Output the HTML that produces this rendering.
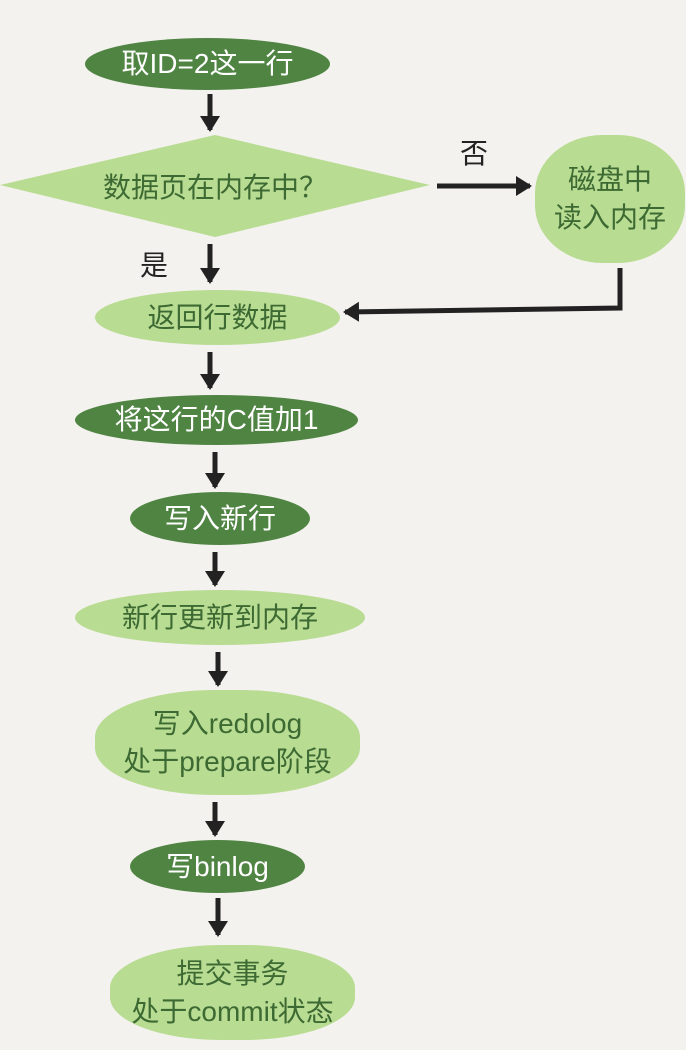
<!DOCTYPE html>
<html><head><meta charset="utf-8"><style>
body{margin:0;width:686px;height:1050px;background:#f4f2ee;position:relative;overflow:hidden;font-family:"Liberation Sans","Noto Sans CJK SC",sans-serif}
.n{position:absolute;display:flex;align-items:center;justify-content:center;text-align:center;font-size:28px;line-height:1.35;border-radius:50%/50%}
.d{background:#4f8443;color:#fff}
.l{background:#b9dc93;color:#3d6a33}
.t{position:absolute;font-size:28px;color:#222}
</style></head><body>
<svg width="686" height="1050" style="position:absolute;left:0;top:0">
<defs><marker id="a" markerUnits="userSpaceOnUse" markerWidth="24" markerHeight="24" refX="14" refY="12" orient="auto"><path d="M0,2 L16,12 L0,22 z" fill="#222"/></marker></defs>
<polygon points="0,185 215,135 430,185 215,237" fill="#b9dc93"/>
<g stroke="#222" stroke-width="5" fill="none" marker-end="url(#a)">
<line x1="210" y1="94" x2="210" y2="130"/>
<line x1="210" y1="244" x2="210" y2="282"/>
<line x1="437" y1="186" x2="530" y2="186"/>
<line x1="210" y1="352" x2="210" y2="388"/>
<line x1="215" y1="452" x2="215" y2="487"/>
<line x1="215" y1="552" x2="215" y2="585"/>
<line x1="218" y1="652" x2="218" y2="685"/>
<line x1="215" y1="802" x2="215" y2="835"/>
<line x1="218" y1="898" x2="218" y2="935"/>
</g>
<polyline points="620,268 620,308 345,312" stroke="#222" stroke-width="5" fill="none" marker-end="url(#a)"/>
</svg>
<div class="n d" style="left:85px;top:38px;width:245px;height:52px">取ID=2这一行</div>
<div class="t" style="left:80px;top:166px;width:270px;text-align:center;color:#3d6a33">数据页在内存中？</div>
<div class="t" style="left:460px;top:132px">否</div>
<div class="n l" style="left:535px;top:135px;width:150px;height:128px;border-radius:45%">磁盘中<br>读入内存</div>
<div class="t" style="left:140px;top:244px">是</div>
<div class="n l" style="left:95px;top:290px;width:245px;height:55px">返回行数据</div>
<div class="n d" style="left:75px;top:395px;width:283px;height:50px">将这行的C值加1</div>
<div class="n d" style="left:130px;top:492px;width:180px;height:53px">写入新行</div>
<div class="n l" style="left:75px;top:590px;width:290px;height:55px">新行更新到内存</div>
<div class="n l" style="left:95px;top:690px;width:265px;height:105px;border-radius:45%">写入redolog<br>处于prepare阶段</div>
<div class="n d" style="left:130px;top:840px;width:175px;height:53px">写binlog</div>
<div class="n l" style="left:110px;top:945px;width:245px;height:95px;border-radius:45%">提交事务<br>处于commit状态</div>
</body></html>
